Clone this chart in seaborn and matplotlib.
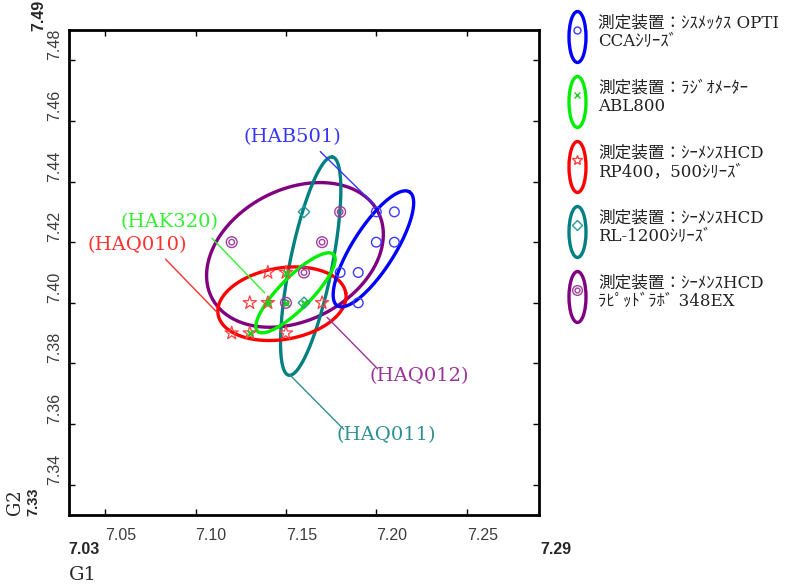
import numpy as np
import matplotlib
matplotlib.use("Agg")
import matplotlib.pyplot as plt
from matplotlib.patches import Ellipse
from matplotlib.lines import Line2D
import seaborn as sns

# ---------------------------------------------------------------------------
# data
# ---------------------------------------------------------------------------
opti_x = [7.20, 7.21, 7.20, 7.21, 7.18, 7.19, 7.19]
opti_y = [7.43, 7.43, 7.42, 7.42, 7.41, 7.41, 7.40]

abl_x = [7.13, 7.14, 7.15, 7.16, 7.15]
abl_y = [7.39, 7.40, 7.40, 7.40, 7.41]

rp_x = [7.14, 7.15, 7.13, 7.14, 7.17, 7.12, 7.13, 7.15]
rp_y = [7.41, 7.41, 7.40, 7.40, 7.40, 7.39, 7.39, 7.39]

rl_x = [7.16, 7.16]
rl_y = [7.43, 7.40]

rapid_x = [7.12, 7.18, 7.17, 7.16, 7.15]
rapid_y = [7.42, 7.43, 7.42, 7.41, 7.40]

# ellipses: centre and two conjugate half-axes (data units)
ell_cx = [7.1984, 7.1553, 7.1478, 7.1637, 7.1550]
ell_cy = [7.4178, 7.4033, 7.3997, 7.4121, 7.4158]
ell_major = [(0.0199, 0.0188), (0.0210, 0.0127), (0.0353, 0.0036),
             (0.0121, 0.0360), (0.0455, 0.0147)]
ell_minor = [(-0.0100, 0.0036), (-0.0064, 0.0036), (-0.0035, 0.0116),
             (-0.0115, 0.0013), (-0.0179, 0.0188)]

legend_labels = [
    "測定装置：ｼｽﾒｯｸｽ OPTI\nCCAｼﾘｰｽﾞ",
    "測定装置：ﾗｼﾞｵﾒｰﾀｰ\nABL800",
    "測定装置：ｼｰﾒﾝｽHCD\nRP400，500ｼﾘｰｽﾞ",
    "測定装置：ｼｰﾒﾝｽHCD\nRL-1200ｼﾘｰｽﾞ",
    "測定装置：ｼｰﾒﾝｽHCD\nﾗﾋﾟｯﾄﾞﾗﾎﾞ 348EX",
]

# annotation labels: text position and leader line (start, end)
ann_text = ["(HAB501)", "(HAK320)", "(HAQ010)", "(HAQ012)", "(HAQ011)"]
ann_pos = [(7.1534, 7.4548), (7.0856, 7.4267), (7.0675, 7.4192),
           (7.2239, 7.3759), (7.2054, 7.3563)]
ann_line = [((7.1690, 7.4499), (7.1986, 7.4326)),
            ((7.1091, 7.4213), (7.1382, 7.4033)),
            ((7.0834, 7.4144), (7.1120, 7.3968)),
            ((7.2008, 7.3782), (7.1728, 7.3952)),
            ((7.1819, 7.3583), (7.1522, 7.3762))]

x_ticks = [7.05, 7.10, 7.15, 7.20, 7.25]
y_ticks = [7.34, 7.36, 7.38, 7.40, 7.42, 7.44, 7.46, 7.48]
x_range = (7.03, 7.29)
y_range = (7.33, 7.49)

# ---------------------------------------------------------------------------
# style
# ---------------------------------------------------------------------------
BLUE, GREEN, RED, TEAL, PURPLE = "#0000FF", "#00EE00", "#FF0000", "#008080", "#800080"
ell_colors = [BLUE, GREEN, RED, TEAL, PURPLE]
ann_colors = ["#3535FF", "#33EE33", "#FF3030", "#993399", "#2E9090"]

sns.set_style("ticks")
plt.rcParams["font.family"] = ["DejaVu Serif", "Noto Sans CJK JP"]
SERIF = ["DejaVu Serif", "Noto Sans CJK JP"]
NARROW = ["Liberation Sans Narrow", "Liberation Sans"]

fig = plt.figure(figsize=(8.12, 5.87), dpi=100)
ax = fig.add_axes([69 / 812, 1 - 515 / 587, 470 / 812, 485 / 587])

# ellipses
t = np.linspace(0, 2 * np.pi, 240)
for i in [4, 3, 2, 1, 0]:
    ex = ell_cx[i] + ell_major[i][0] * np.cos(t) + ell_minor[i][0] * np.sin(t)
    ey = ell_cy[i] + ell_major[i][1] * np.cos(t) + ell_minor[i][1] * np.sin(t)
    sns.lineplot(x=ex, y=ey, sort=False, estimator=None, color=ell_colors[i],
                 lw=2.4, ax=ax)

# points
sns.scatterplot(x=opti_x, y=opti_y, marker="o", s=48, facecolor="none",
                edgecolor="#3a3aff", linewidth=1.0, ax=ax, zorder=5)
sns.scatterplot(x=rp_x, y=rp_y, marker="*", s=100, facecolor="none",
                edgecolor="#ff4040", linewidth=0.9, ax=ax, zorder=5)
sns.scatterplot(x=rapid_x, y=rapid_y, marker="o", s=60, facecolor="none",
                edgecolor="#a040a0", linewidth=1.0, ax=ax, zorder=6)
sns.scatterplot(x=rapid_x, y=rapid_y, marker="o", s=16, facecolor="none",
                edgecolor="#a040a0", linewidth=1.0, ax=ax, zorder=6)
sns.scatterplot(x=rl_x, y=rl_y, marker="D", s=34, facecolor="none",
                edgecolor="#2a9a9a", linewidth=1.0, ax=ax, zorder=6)
sns.scatterplot(x=abl_x, y=abl_y, marker="x", s=16, color="#22cc22",
                linewidth=1.6, ax=ax, zorder=7)

# leader lines + labels
for txt, (tx, ty), ((x0, y0), (x1, y1)), c in zip(ann_text, ann_pos, ann_line, ann_colors):
    ax.plot([x0, x1], [y0, y1], color=c, lw=1.0, zorder=4)
    ax.text(tx, ty, txt, color=c, fontsize=14, ha="center", va="center",
            family=SERIF)

# axes
ax.set_xlim(*x_range)
ax.set_ylim(*y_range)
ax.set_xticks(x_ticks)
ax.set_yticks(y_ticks)
ax.set_xticklabels([f"{v:.2f}" for v in x_ticks], ha="left",
                   family=NARROW, fontsize=11.5, color="#3c3c3c")
ax.set_yticklabels([f"{v:.2f}" for v in y_ticks], rotation=90, va="bottom",
                   ha="right", family=NARROW, fontsize=11.5, color="#3c3c3c")
ax.tick_params(direction="in", length=4, width=1, top=True, right=True,
               color="black")
ax.tick_params(axis="x", pad=9)
ax.tick_params(axis="y", pad=5)
for sp in ax.spines.values():
    sp.set_visible(True)
    sp.set_color("black")
    sp.set_linewidth(2.0)
ax.set_xlabel("")
ax.set_ylabel("")

# range labels and axis names
def fx(px):
    return px / 812

def fy(py):
    return 1 - py / 587

fig.text(fx(84), fy(549), "7.03", fontsize=11.5, fontweight="bold",
         family=NARROW, ha="center", va="center")
fig.text(fx(556), fy(549), "7.29", fontsize=11.5, fontweight="bold",
         family=NARROW, ha="center", va="center")
fig.text(fx(39), fy(15), "7.49", fontsize=11.5, fontweight="bold",
         family=NARROW, ha="center", va="center", rotation=90)
fig.text(fx(33), fy(502), "7.33", fontsize=10.5, fontweight="bold",
         family=NARROW, ha="center", va="center", rotation=90)
fig.text(fx(83), fy(575), "G1", fontsize=14, family=SERIF,
         ha="center", va="center")
fig.text(fx(15), fy(502), "G2", fontsize=13, family=SERIF,
         ha="center", va="center", rotation=90)

# legend (drawn by hand: ellipse handle with the marker inside)
leg_markers = [("o", "#3a3aff", 5), ("x", "#22cc22", 4), ("*", "#ff4040", 7),
               ("D", "#2a9a9a", 5), ("o", "#a040a0", 7)]
for i, (lab, c, (m, mc, ms)) in enumerate(zip(legend_labels, ell_colors, leg_markers)):
    cy = 37 + 65 * i
    fig.add_artist(Ellipse((fx(577.5), fy(cy)), 17 / 812, 51 / 587,
                           transform=fig.transFigure, fill=False,
                           edgecolor=c, lw=2.4))
    fig.add_artist(Line2D([fx(577.5)], [fy(cy - 7)], marker=m, ms=ms,
                          mfc="none", mec=mc, mew=1.0,
                          transform=fig.transFigure))
    if i == 4:
        fig.add_artist(Line2D([fx(577.5)], [fy(cy - 7)], marker="o", ms=3.5,
                              mfc="none", mec=mc, mew=1.0,
                              transform=fig.transFigure))
    fig.text(fx(598), fy(cy - 5), lab, fontsize=12, family=SERIF,
             ha="left", va="center", linespacing=1.15, color="#222222")

fig.savefig("out.png", dpi=100)
